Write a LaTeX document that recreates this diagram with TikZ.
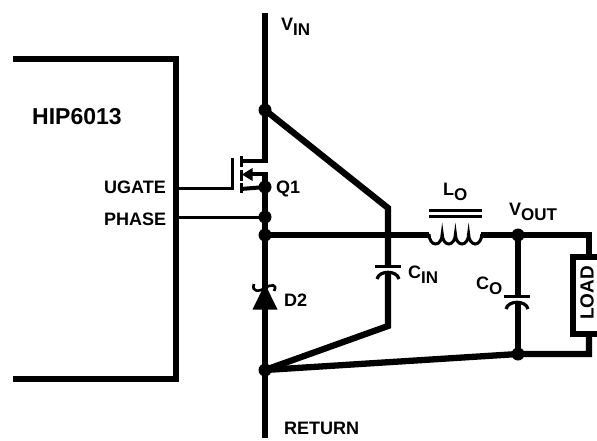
\documentclass[tikz,border=0pt]{standalone}
\usepackage{fontspec}
\setmainfont{Liberation Sans}
\tikzset{
  thick wire/.style={line width=6.3pt,line cap=butt,line join=miter},
  mid wire/.style={line width=5.5pt,line join=miter},
  thin wire/.style={line width=3pt,line join=miter},
  mos wire/.style={line width=4pt,line join=miter},
  curved plate/.style={line width=3.2pt},
  dot/.style={circle,fill=black,inner sep=0pt,minimum size=13pt},
  lbl/.style={inner sep=0pt,font=\bfseries\fontsize{18}{20}\selectfont,anchor=west},
}
\newcommand{\sbs}[1]{\raisebox{-5pt}{\fontsize{17}{20}\selectfont #1}}
\begin{document}
\begin{tikzpicture}[x=1pt,y=-1pt]
\useasboundingbox (0,0) rectangle (597,440);
\fill[white] (0,0) rectangle (597,440);
% junctions
\node[dot] (j1) at (265,110) {};
\node[dot] (j2) at (265,187) {};
\node[dot] (j3) at (265,217) {};
\node[dot] (j4) at (265,235) {};
\node[dot] (j5) at (265,370) {};
\node[dot] (j6) at (518,235) {};
\node[dot] (j7) at (518,354) {};
\coordinate (vtop) at (265,13);
\coordinate (vbot) at (265,438);
\coordinate (drain) at (265,163);
\coordinate (src) at (265,172);
\coordinate (d1) at (265,289);
\coordinate (d2) at (265,309);
% controller
\draw[mid wire] (13,59) -- (176,59) -- (176,379) -- (13,379);
% main rail
\draw[thick wire] (vtop) -- (drain);
\draw[thick wire] (src) -- (j4.center) -- (d1);
\draw[thick wire] (d2) -- (j5.center);
\draw[thick wire] (j5.center) -- (vbot);
% MOSFET
\draw[thin wire] (176,188) -- (232,188) -- (232,158);
\draw[thin wire] (241,156) -- (241,167) (241,170) -- (241,181) (241,183) -- (241,193);
\draw[mos wire] (241,160.8) -- (268,160.8);
\draw[mos wire] (250,174) -- (268,174);
\fill (242,174.5) -- (252.5,168) -- (252.5,181) -- cycle;
\draw[mos wire] (241,189) -- (j2.center);
\draw[thin wire] (176,217) -- (j3.center);
% Diode
\fill (265,284) -- (277.5,309.5) -- (252.5,309.5) -- cycle;
\draw[line width=2.6pt] (254,284) .. controls (251,292) and (259,292) .. (265,288) .. controls (271,284) and (278,284) .. (274,291);
% CIN
\draw[thick wire] (j1.center) -- (388,208) -- (388,265);
\draw[thin wire] (375,266) -- (401,266);
\draw[curved plate] (377,279) .. controls (379,270) and (397,270) .. (399,279);
\draw[thick wire] (388,274) -- (388,326) -- (j5.center);
% output
\draw[thick wire] (j4.center) -- (429,235);
\draw[thin wire] (429,210.5) -- (482,210.5) (429,216.5) -- (482,216.5);
\draw[line width=3pt] (429,234) arc[start angle=180,end angle=0,x radius=6.6,y radius=10] arc[start angle=180,end angle=0,x radius=6.6,y radius=10] arc[start angle=180,end angle=0,x radius=6.6,y radius=10] arc[start angle=180,end angle=0,x radius=6.6,y radius=10];
\draw[thick wire] (481,235) -- (j6.center) -- (589,235) -- (589,256);
% CO
\draw[thick wire] (j6.center) -- (518,295);
\draw[thin wire] (504,296) -- (530,296);
\draw[curved plate] (506,309) .. controls (508,300) and (526,300) .. (528,309);
\draw[thick wire] (518,304) -- (j7.center);
\draw[thick wire] (j5.center) -- (j7.center) -- (589,354) -- (589,334);
% load
\draw[mid wire] (598,257) -- (573,257) -- (573,334) -- (598,334);
\node[inner sep=0pt,rotate=90,font=\bfseries\fontsize{19}{21}\selectfont] (load) at (587,293) {LOAD};
% labels
\node[lbl,font=\bfseries\fontsize{23}{26}\selectfont] (hip) at (32,117) {HIP6013};
\node[lbl] (ug) at (104,187) {UGATE};
\node[lbl] (ph) at (104,219) {PHASE};
\node[lbl] (vin) at (281,27) {V\sbs{IN}};
\node[lbl] (q1) at (276,189) {Q1};
\node[lbl] (lo) at (443,192) {L\sbs{O}};
\node[lbl] (vo) at (509,212) {V\sbs{OUT}};
\node[lbl] (cin) at (408,275) {C\sbs{IN}};
\node[lbl] (co) at (476,286) {C\sbs{O}};
\node[lbl] (d2l) at (284,300) {D2};
\node[lbl] (ret) at (284,428) {RETURN};
\end{tikzpicture}
\end{document}
